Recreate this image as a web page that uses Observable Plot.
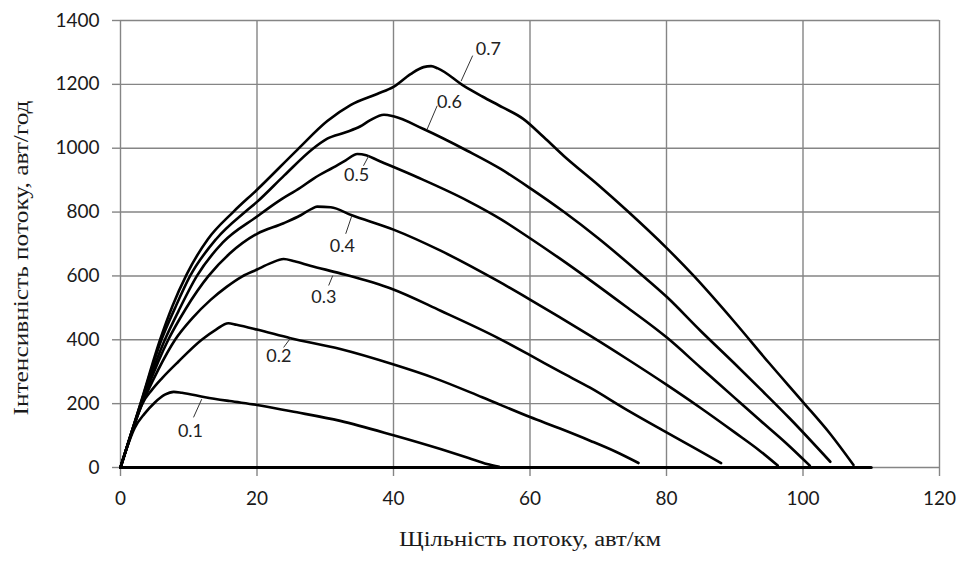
<!DOCTYPE html>
<html>
<head>
<meta charset="utf-8">
<script src="https://cdn.jsdelivr.net/npm/d3@7"></script>
<script src="https://cdn.jsdelivr.net/npm/@observablehq/plot@0.6"></script>
<style>
  html, body { margin: 0; padding: 0; background: #fff; }
  #chart { width: 963px; height: 562px; }
</style>
</head>
<body>
<div id="chart"></div>
<script>
// Tick values
const xTicks = [0, 20, 40, 60, 80, 100, 120];
const yTicks = [0, 200, 400, 600, 800, 1000, 1200, 1400];

// Axis titles
const xTitle = "Щільність потоку, авт/км";
const yTitle = "Інтенсивність потоку, авт/год";

// Series names (parameter values)
const series = ["0.1", "0.2", "0.3", "0.4", "0.5", "0.6", "0.7"];

// Density (авт/км) and flow (авт/год) for each series
const dens01 = [0, 2.1, 3.5, 5, 6.5, 7.8, 9, 12.4, 16, 20, 25, 32.2, 40, 47, 51, 53.7, 55.5];
const flow01 = [0, 125, 168, 203, 228, 237, 234, 220, 208, 196, 176, 146, 101, 57, 30, 11, 2];

const dens02 = [0, 2, 3.2, 4.6, 6.1, 8.5, 11.9, 14, 15.8, 17, 20, 24.9, 32.2, 39.8, 46, 53, 60, 64.4, 68.8, 72.5, 75.9];
const flow02 = [0, 133, 200, 243, 280, 332, 400, 432, 452, 447, 432, 405, 371, 324, 280, 220, 158, 122, 84, 50, 14];

const dens03 = [0, 3, 5.5, 8, 10.5, 13.2, 15.5, 17.8, 20, 22, 23.9, 25.5, 27.8, 32.2, 39.8, 46.9, 55.2, 60, 64.4, 68.8, 74, 80, 84, 88];
const flow03 = [0, 190, 305, 400, 467, 525, 565, 598, 620, 640, 653, 646, 632, 608, 559, 491, 407, 352, 300, 250, 183, 110, 62, 14];

const dens04 = [0, 3, 5.5, 7, 9.5, 12.9, 16, 20, 23.9, 26.4, 28, 28.8, 30.8, 33.9, 40, 46.9, 55.2, 60, 64.4, 68.8, 74, 80.1, 84.9, 90, 93.7, 96.3];
const flow04 = [0, 195, 330, 400, 495, 600, 670, 732, 765, 790, 810, 817, 815, 790, 745, 679, 585, 526, 470, 413, 343, 258, 188, 110, 52, 6];

const dens05 = [0, 3, 6.5, 8.5, 11.2, 15, 20, 23, 26.4, 28.3, 31.2, 33, 34.7, 36, 37.6, 43.5, 50.8, 55.7, 60, 64.4, 68.8, 74, 80.1, 84.9, 90, 93.7, 97.5, 101];
const flow05 = [0, 200, 400, 490, 600, 705, 786, 832, 877, 905, 940, 962, 982, 978, 963, 909, 836, 778, 718, 654, 587, 505, 406, 315, 218, 148, 77, 6];

const dens06 = [0, 3, 6, 8, 10.2, 14, 18.5, 20, 24, 28.1, 30.3, 33, 35.1, 36.6, 38.6, 40, 44.4, 50.8, 55.7, 60, 65, 70, 76, 80.1, 84.9, 90, 93.7, 98, 104];
const flow06 = [0, 203, 400, 500, 600, 715, 805, 832, 915, 997, 1030, 1050, 1068, 1088, 1105, 1100, 1060, 992, 935, 875, 800, 718, 610, 533, 430, 325, 247, 155, 18];

const dens07 = [0, 3, 5.8, 7.6, 9.7, 12.8, 16.5, 20, 25.9, 30.3, 33.7, 37.6, 40, 42.5, 44.4, 45.5, 46.5, 50.3, 53, 56, 59, 62, 65, 70, 74.2, 80, 84, 90, 95, 100, 104, 107.4];
const flow07 = [0, 205, 400, 505, 605, 715, 800, 870, 995, 1085, 1135, 1170, 1192, 1232, 1254, 1257, 1250, 1195, 1162, 1128, 1092, 1035, 975, 885, 805, 688, 600, 455, 328, 205, 105, 8];

// Zero line drawn along the density axis
const baseDens = [0, 110];
const baseFlow = [0, 0];

// Curve labels and their leader lines
const labelX = [10.25, 23.2, 29.8, 32.5, 34.6, 48.2, 53.9];
const labelY = [114, 347, 533, 694, 914, 1144, 1311];
const leadX1 = [10.7, 23.9, 30.5, 33.0, 35.6, 44.9, 49.9];
const leadY1 = [157, 376, 570, 732, 945, 1058, 1210];
const leadX2 = [11.9, 24.9, 31.1, 33.9, 36.4, 46.4, 51.6];
const leadY2 = [214, 405, 601, 789, 977, 1133, 1290];

const densAll = [dens01, dens02, dens03, dens04, dens05, dens06, dens07];
const flowAll = [flow01, flow02, flow03, flow04, flow05, flow06, flow07];

const rows = series.flatMap((s, i) => densAll[i].map((d, j) => ({k: s, x: d, y: flowAll[i][j]})));
const base = baseDens.map((d, j) => ({x: d, y: baseFlow[j]}));
const labels = series.map((s, i) => ({k: s, x: labelX[i], y: labelY[i]}));
const leaders = series.map((s, i) => ({x1: leadX1[i], y1: leadY1[i], x2: leadX2[i], y2: leadY2[i]}));

const gridColor = "#858585";
const tickFont = "Lato, 'Open Sans', sans-serif";
const titleFont = "'Liberation Serif', 'DejaVu Serif', serif";

const chart = Plot.plot({
  width: 963,
  height: 562,
  marginLeft: 120,
  marginRight: 24,
  marginTop: 20,
  marginBottom: 95,
  style: {background: "#fff", color: "#1a1a1a"},
  x: {domain: [0, 120]},
  y: {domain: [0, 1400]},
  marks: [
    Plot.gridX(xTicks, {stroke: gridColor, strokeOpacity: 1, strokeWidth: 1.4}),
    Plot.gridY(yTicks, {stroke: gridColor, strokeOpacity: 1, strokeWidth: 1.4}),
    Plot.axisX(xTicks, {tickSize: 9, tickPadding: 15, stroke: gridColor, strokeWidth: 1.4, fontSize: 19, fontFamily: tickFont, fill: "#1a1a1a", label: null, tickFormat: d => String(d)}),
    Plot.axisY(yTicks, {tickSize: 8, tickPadding: 13, stroke: gridColor, strokeWidth: 1.4, fontSize: 19, fontFamily: tickFont, fill: "#1a1a1a", label: null, tickFormat: d => String(d)}),
    Plot.line(base, {x: "x", y: "y", stroke: "#000", strokeWidth: 3}),
    Plot.line(rows, {x: "x", y: "y", z: "k", stroke: "#000", strokeWidth: 2.6, curve: "monotone-x", strokeLinejoin: "round"}),
    Plot.link(leaders, {x1: "x1", y1: "y1", x2: "x2", y2: "y2", stroke: "#333", strokeWidth: 1}),
    Plot.text(labels, {x: "x", y: "y", text: "k", fontSize: 18, fontFamily: tickFont, fill: "#222"}),
    Plot.text([xTitle], {frameAnchor: "bottom", dy: 78, textAnchor: "middle", fontSize: 20, fontFamily: titleFont, fill: "#1a1a1a"}),
    Plot.text([yTitle], {frameAnchor: "left", dx: -99, dy: 14, textAnchor: "middle", rotate: -90, fontSize: 20, fontFamily: titleFont, fill: "#1a1a1a"})
  ]
});

// Stretch the axis titles to the width they have in the reference
d3.select(chart).selectAll("text").each(function() {
  const t = this.textContent;
  if (t === xTitle) d3.select(this).attr("textLength", 262).attr("lengthAdjust", "spacingAndGlyphs");
  if (t === yTitle) d3.select(this).attr("textLength", 315).attr("lengthAdjust", "spacingAndGlyphs");
});

document.getElementById("chart").appendChild(chart);
</script>
</body>
</html>
